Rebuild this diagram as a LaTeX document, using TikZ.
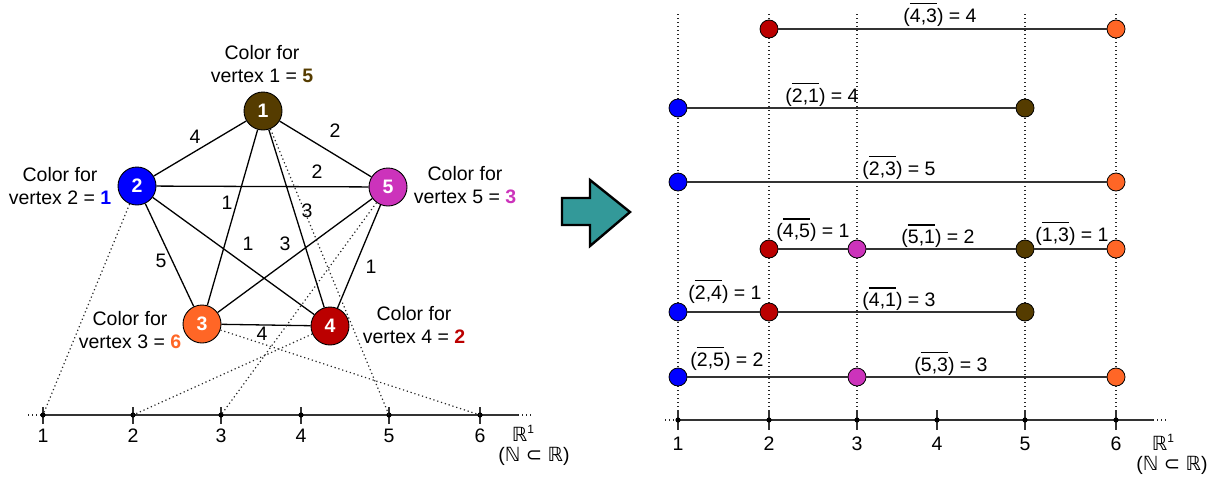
\documentclass[tikz,border=0pt]{standalone}
\usepackage{fontspec}
\setmainfont{Liberation Sans}
\newfontfamily\djv{DejaVu Sans}
\usetikzlibrary{calc}
\definecolor{cA}{RGB}{85,60,0}
\definecolor{cB}{RGB}{0,0,255}
\definecolor{cC}{RGB}{255,102,38}
\definecolor{cD}{RGB}{187,0,0}
\definecolor{cE}{RGB}{204,51,187}
\definecolor{tealA}{RGB}{51,153,153}
\newcommand{\ovl}[1]{\leavevmode\vbox{\hrule height 1.2pt\kern 4pt\hbox{#1}}}
\newcommand{\Rone}{{\djv ℝ}\raisebox{8pt}{\fontsize{12}{12}\selectfont 1}}
\newcommand{\NinR}{({\djv ℕ} {\djv ⊂} {\djv ℝ})}
\begin{document}
\begin{tikzpicture}[x=1pt,y=-1pt,
  every node/.style={font=\fontsize{19.5}{23}\selectfont, inner sep=0pt},
  vtx/.style={circle,draw=black,line width=0.9pt,minimum size=38pt,inner sep=0pt,text=white,font=\fontsize{19.5}{23}\selectfont\bfseries},
  pt/.style={circle,draw=black,line width=0.8pt,minimum size=18pt,inner sep=0pt},
  edge/.style={line width=1.3pt,black},
  seg/.style={line width=1.3pt,black!80},
  dots/.style={line width=1.2pt,black!85,dash pattern=on 1.2pt off 2.8pt},
  axis/.style={line width=1.3pt,black!80},
  lab/.style={anchor=base},
]
\useasboundingbox (0,0) rectangle (1217,477);

% ---------------- left graph ----------------
\node[vtx,fill=cA] (v1) at (263,111) {1};
\node[vtx,fill=cB] (v2) at (137,186) {2};
\node[vtx,fill=cE] (v5) at (388,187) {5};
\node[vtx,fill=cC] (v3) at (202,324) {3};
\node[vtx,fill=cD] (v4) at (330,326) {4};

\draw[edge] (v1)--(v2) (v1)--(v5) (v2)--(v5) (v1)--(v3) (v1)--(v4)
            (v2)--(v4) (v3)--(v5) (v2)--(v3) (v5)--(v4) (v3)--(v4);

\node (w12) at (195,137) {4};
\node (w15) at (335,131) {2};
\node (w25) at (317,172) {2};
\node (w14) at (307,211) {3};
\node (w35) at (285,244) {3};
\node (w24) at (248,244) {1};
\node (w13) at (227,203) {1};
\node (w23) at (161,261) {5};
\node (w54) at (371,267) {1};
\node (w34) at (262,334) {4};

\node[align=center] (c1) at (262,64) {Color for\\vertex 1 = \textbf{\color{cA}5}};
\node[align=center] (c2) at (60,186) {Color for\\vertex 2 = \textbf{\color{cB}1}};
\node[align=center] (c5) at (465,185) {Color for\\vertex 5 = \textbf{\color{cE}3}};
\node[align=center] (c3) at (130,330) {Color for\\vertex 3 = \textbf{\color{cC}6}};
\node[align=center] (c4) at (414,325) {Color for\\vertex 4 = \textbf{\color{cD}2}};

% left axis
\coordinate (La) at (28,415);
\coordinate (Lb) at (518,415);
\coordinate (Lc) at (531,415);
\foreach \n/\x in {1/43,2/133,3/221,4/301,5/389,6/480}{
  \coordinate (L\n) at (\x,415);
}
\draw[dots] (La) -- (L1);
\draw[dots] (Lb) -- (Lc);
\draw[axis] (L1) -- (Lb);
\foreach \n/\x in {1/43,2/133,3/221,4/301,5/389,6/480}{
  \draw[axis] (\x,407) -- (\x,424);
  \fill (L\n) circle (2.6);
  \node (Ll\n) at (\x,436) {\n};
}
\node (LR) at (523,433) {\Rone};
\node (LN) at (534,456) {\NinR};

\draw[dots] (v2) -- (L1);
\draw[dots] (v4) -- (L2);
\draw[dots] (v5) -- (L3);
\draw[dots] (v1) -- (L5);
\draw[dots] (v3) -- (L6);

% ---------------- arrow ----------------
\draw[fill=tealA,line width=2.4pt,line join=miter]
  (562,198) -- (590,198) -- (590,180) -- (630,212) -- (590,246) -- (590,225) -- (562,225) -- cycle;

% ---------------- right side ----------------
\coordinate (Ra) at (665,420);
\coordinate (Rb) at (1153,420);
\coordinate (Rc) at (1167,420);
\foreach \n/\x in {1/678,2/769,3/857,4/937,5/1025,6/1116}{
  \coordinate (R\n) at (\x,420);
  \coordinate (Rt\n) at (\x,14);
}
\foreach \n in {1,2,3,5,6}{
  \draw[dots] (Rt\n) -- (R\n);
}
\draw[dots] (Ra) -- (R1);
\draw[dots] (Rb) -- (Rc);
\draw[axis] (R1) -- (Rb);
\foreach \n/\x in {1/678,2/769,3/857,4/937,5/1025,6/1116}{
  \draw[axis] (\x,410) -- (\x,430);
  \fill (R\n) circle (2.6);
  \node (Rl\n) at (\x,444) {\n};
}
\node (RR) at (1163,442) {\Rone};
\node (RN) at (1172,465) {\NinR};

% row 1
\node[pt,fill=cD] (a1) at (769,29) {};
\node[pt,fill=cC] (a2) at (1116,29) {};
\draw[seg] (a1) -- (a2);
\node[lab] (la) at (940,22) {(\ovl{4,3}) = 4};
% row 2
\node[pt,fill=cB] (b1) at (678,108) {};
\node[pt,fill=cA] (b2) at (1025,108) {};
\draw[seg] (b1) -- (b2);
\node[lab] (lb) at (822,102) {(\ovl{2,1}) = 4};
% row 3
\node[pt,fill=cB] (c1r) at (678,182) {};
\node[pt,fill=cC] (c2r) at (1116,182) {};
\draw[seg] (c1r) -- (c2r);
\node[lab] (lc) at (899,175) {(\ovl{2,3}) = 5};
% row 4
\node[pt,fill=cD] (d1) at (769,249) {};
\node[pt,fill=cE] (d2) at (857,249) {};
\node[pt,fill=cA] (d3) at (1025,249) {};
\node[pt,fill=cC] (d4) at (1116,249) {};
\draw[seg] (d1) -- (d2);
\draw[seg] (d2) -- (d3);
\draw[seg] (d3) -- (d4);
\node[lab] (ld1) at (813,237) {(\ovl{4,5}) = 1};
\node[lab] (ld2) at (938,243) {(\ovl{5,1}) = 2};
\node[lab] (ld3) at (1072,241) {(\ovl{1,3}) = 1};
% row 5
\node[pt,fill=cB] (e1) at (678,312) {};
\node[pt,fill=cD] (e2) at (769,312) {};
\node[pt,fill=cA] (e3) at (1025,312) {};
\draw[seg] (e1) -- (e2);
\draw[seg] (e2) -- (e3);
\node[lab] (le1) at (725,299) {(\ovl{2,4}) = 1};
\node[lab] (le2) at (899,306) {(\ovl{4,1}) = 3};
% row 6
\node[pt,fill=cB] (f1) at (678,377) {};
\node[pt,fill=cE] (f2) at (857,377) {};
\node[pt,fill=cC] (f3) at (1116,377) {};
\draw[seg] (f1) -- (f2);
\draw[seg] (f2) -- (f3);
\node[lab] (lf1) at (727,366) {(\ovl{2,5}) = 2};
\node[lab] (lf2) at (951,371) {(\ovl{5,3}) = 3};
\end{tikzpicture}
\end{document}
